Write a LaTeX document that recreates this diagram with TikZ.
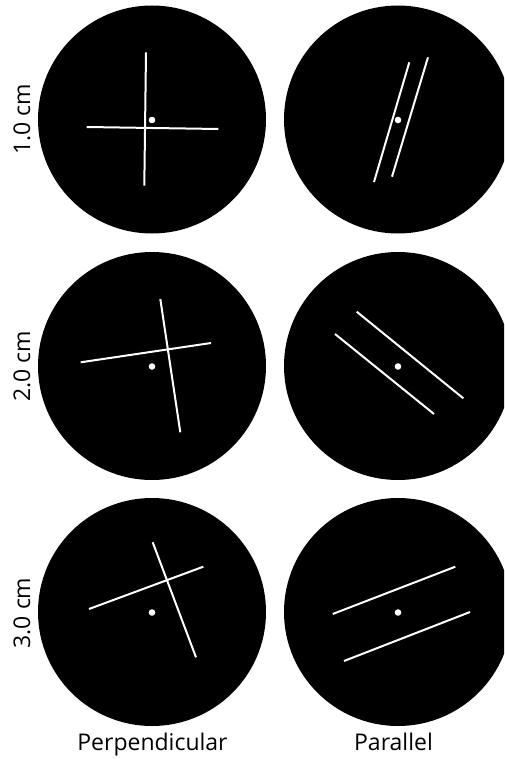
\documentclass[tikz,border=0pt]{standalone}
\usepackage{fontspec}
\setmainfont{Open Sans}
\begin{document}
\begin{tikzpicture}[x=1pt,y=-1pt,
  disc/.style={fill=black},
  wline/.style={draw=white,line width=2pt},
  cdot/.style={fill=white},
  rowlabel/.style={rotate=90,anchor=base,inner sep=0pt,font=\fontsize{23}{27}\selectfont},
  collabel/.style={anchor=base,inner sep=0pt,font=\fontsize{23}{27}\selectfont}]
\useasboundingbox (0,0) rectangle (504,759);
\clip (0,0) rectangle (504,759);
% discs
\foreach \cx/\cy in {152/119.5,398/119.5,152/366,398/366,152/612,398/612}{
  \fill[disc] (\cx,\cy) circle[radius=114pt];
  \fill[cdot] (\cx,\cy+0.5) circle[radius=3.3pt];
}
% row 1
\coordinate (a1) at (146,52.3); \coordinate (a2) at (144.3,185.7);
\coordinate (b1) at (86.7,127); \coordinate (b2) at (218.3,129);
\draw[wline] (a1) -- (a2); \draw[wline] (b1) -- (b2);
\coordinate (c1) at (409.3,62.3); \coordinate (c2) at (374,182);
\coordinate (d1) at (428,57.3); \coordinate (d2) at (392,176.7);
\draw[wline] (c1) -- (c2); \draw[wline] (d1) -- (d2);
% row 2
\coordinate (e1) at (160.3,299); \coordinate (e2) at (180.3,432.3);
\coordinate (f1) at (80.7,362.3); \coordinate (f2) at (211,343);
\draw[wline] (e1) -- (e2); \draw[wline] (f1) -- (f2);
\coordinate (g1) at (356.7,311.7); \coordinate (g2) at (463.3,398.3);
\coordinate (h1) at (335,334); \coordinate (h2) at (434,414);
\draw[wline] (g1) -- (g2); \draw[wline] (h1) -- (h2);
% row 3
\coordinate (i1) at (152.7,542.3); \coordinate (i2) at (196,657.3);
\coordinate (j1) at (89,609); \coordinate (j2) at (203.3,566.7);
\draw[wline] (i1) -- (i2); \draw[wline] (j1) -- (j2);
\coordinate (k1) at (332.7,614); \coordinate (k2) at (455.3,566.7);
\coordinate (l1) at (344,661); \coordinate (l2) at (470,612);
\draw[wline] (k1) -- (k2); \draw[wline] (l1) -- (l2);
% labels
\node[rowlabel] (r1) at (30,119.5) {1.0 cm};
\node[rowlabel] (r2) at (30,366.5) {2.0 cm};
\node[rowlabel] (r3) at (30,613) {3.0 cm};
\node[collabel] (p1) at (152.5,750) {Perpendicular};
\node[collabel] (p2) at (393.5,750) {Parallel};
\end{tikzpicture}
\end{document}
